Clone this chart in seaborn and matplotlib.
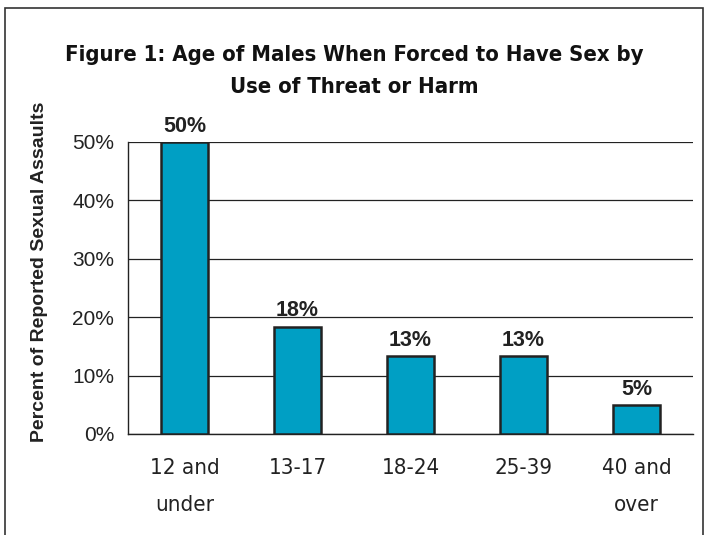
import matplotlib
matplotlib.use("Agg")
import matplotlib.pyplot as plt
import matplotlib.patches as mpatches
from matplotlib.ticker import FixedLocator, PercentFormatter
import seaborn as sns
import pandas as pd

# chart data
AGE_GROUPS = ["12 and\nunder", "13-17", "18-24", "25-39", "40 and\nover"]
PERCENTS = [50.0, 18.4, 13.3, 13.3, 5.0]
Y_TICKS = [0, 10, 20, 30, 40, 50]
TITLE = "Figure 1: Age of Males When Forced to Have Sex by\nUse of Threat or Harm"
Y_LABEL = "Percent of Reported Sexual Assaults"

BAR_COLOR = "#009FC4"

df = pd.DataFrame({"age": AGE_GROUPS, "pct": PERCENTS})

sns.set_style("white")
plt.rcParams["font.family"] = ["Liberation Sans", "DejaVu Sans"]

fig = plt.figure(figsize=(7.07, 5.35), dpi=100)
ax = fig.add_axes([128 / 707, 0.1888, 565 / 707, 0.5458])

sns.barplot(data=df, x="age", y="pct", color=BAR_COLOR, width=0.41,
            edgecolor="#222222", linewidth=1.8, saturation=1, ax=ax, zorder=3)

ax.set_xlim(-0.5, len(AGE_GROUPS) - 0.5)
ax.set_ylim(0, 50)
ax.set_yticks(Y_TICKS)
ax.yaxis.set_major_formatter(PercentFormatter(decimals=0))
ax.grid(axis="y", color="#222222", linewidth=0.9, zorder=0)
ax.set_axisbelow(True)

for s in ["top", "right"]:
    ax.spines[s].set_visible(False)
for s in ["left", "bottom"]:
    ax.spines[s].set_color("#222222")
    ax.spines[s].set_linewidth(1.0)

# x ticks sit on category boundaries
ax.xaxis.set_minor_locator(FixedLocator([i - 0.5 for i in range(len(AGE_GROUPS) + 1)]))
ax.tick_params(axis="x", which="major", length=0, pad=17)
ax.tick_params(axis="x", which="minor", length=11, width=1, color="#222222", direction="out")
ax.tick_params(axis="y", length=6, width=1, color="#222222", direction="out", pad=4,
               labelsize=15, labelcolor="#222222")
for lbl in ax.get_yticklabels():
    lbl.set_fontfamily(["Liberation Sans"])
for lbl in ax.get_xticklabels():
    lbl.set_fontfamily(["DejaVu Sans"])
    lbl.set_fontstretch("condensed")
    lbl.set_fontsize(16)
    lbl.set_color("#222222")
    lbl.set_linespacing(2.1)

ax.set_xlabel("")
ax.set_ylabel("")
fig.text(40 / 707, 1 - 272 / 535, Y_LABEL, rotation=90, ha="center", va="center",
         fontsize=14, fontweight="bold", color="#222222", family=["Liberation Sans"])

for i, v in enumerate(PERCENTS):
    ax.text(i, v + 0.9, f"{v:.0f}%", ha="center", va="bottom", fontsize=15.5,
            fontweight="bold", color="#222222", family=["Liberation Sans"])

fig.text(354 / 707, 1 - 71 / 535, TITLE, ha="center", va="center", fontsize=15.8,
         fontweight="bold", fontstretch="condensed", color="#111111", linespacing=1.8,
         family=["DejaVu Sans"])

# frame around the figure (bottom edge falls off the canvas)
frame = mpatches.Rectangle((5 / 707, -0.05), 698 / 707, 1.05 - 8 / 535,
                           transform=fig.transFigure, fill=False,
                           edgecolor="#333333", linewidth=1.2)
fig.patches.append(frame)

fig.savefig("out.png", dpi=100)
